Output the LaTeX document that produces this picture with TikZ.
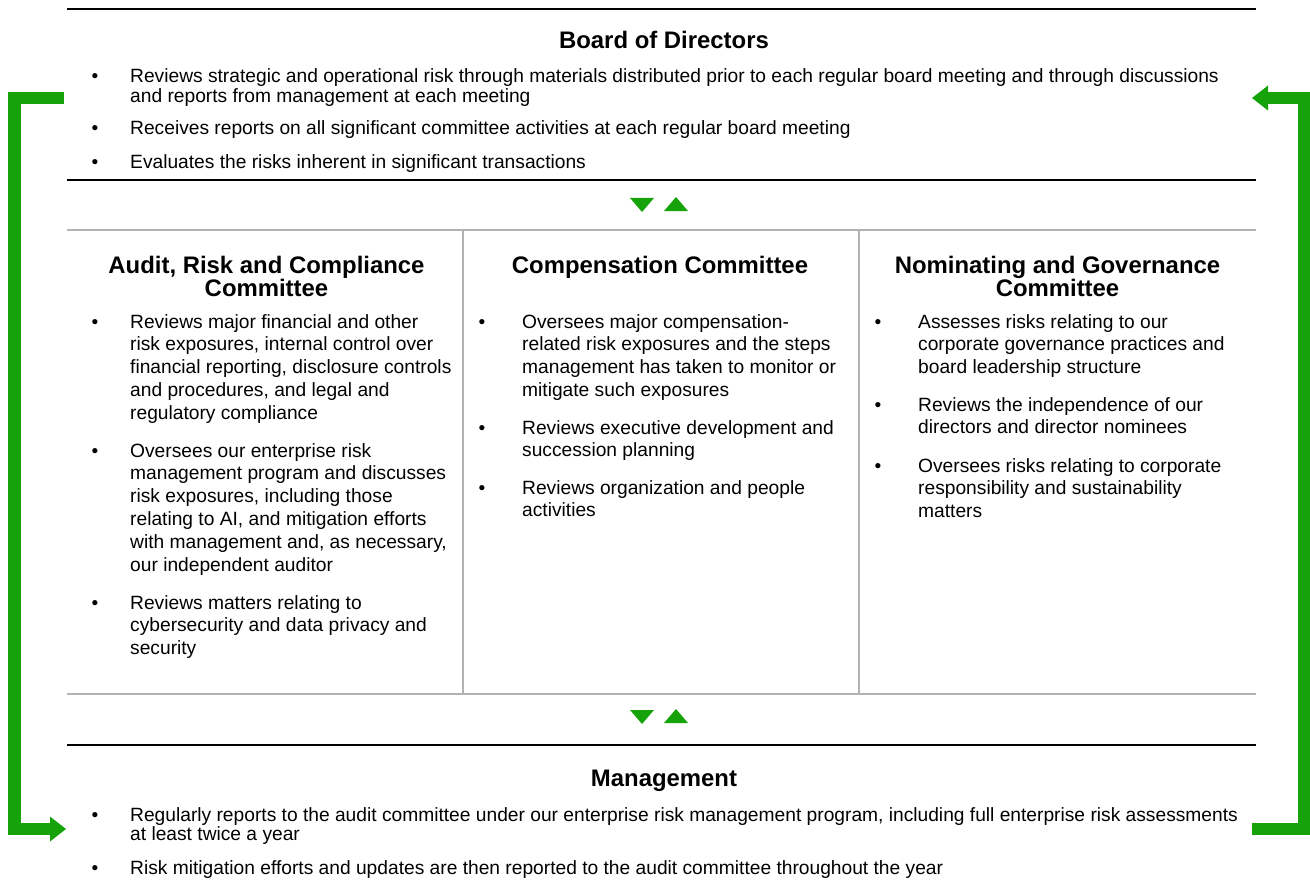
\documentclass[tikz,border=0pt]{standalone}
\usepackage{fontspec}
\setmainfont{Liberation Sans}
\definecolor{riskgreen}{RGB}{22,163,10}
\definecolor{rulegray}{RGB}{178,178,178}
% stacked lines with a fixed line pitch; the box baseline is the first line
\newcommand\leftlines[2]{\vtop{\baselineskip=#1\relax\lineskiplimit=-100pt\lineskip=0pt\halign{##\hfil\cr#2\crcr}}}
\newcommand\midlines[2]{\vtop{\baselineskip=#1\relax\lineskiplimit=-100pt\lineskip=0pt\halign{\hfil##\hfil\cr#2\crcr}}}
\tikzset{
  body/.style={inner sep=0pt, anchor=base west, font=\fontsize{19.2}{22}\selectfont},
  bul/.style={inner sep=0pt, anchor=base, font=\fontsize{19.2}{22}\selectfont},
  ttl/.style={inner sep=0pt, anchor=base, font=\fontsize{23.9}{24}\selectfont\bfseries},
  blackrule/.style={line width=2.5pt, black},
  grayrule/.style={line width=2pt, rulegray},
  bracket/.style={line width=12.5pt, riskgreen, line join=miter, line cap=butt},
  tri/.style={fill=riskgreen, draw=none}
}
\begin{document}
\begin{tikzpicture}[x=1pt,y=-1pt]
\useasboundingbox (0,0) rectangle (1310,888);

% horizontal and vertical rules
\draw[blackrule] (67,9) -- (1256,9);
\draw[blackrule] (67,180) -- (1256,180);
\draw[grayrule] (67,230) -- (1256,230);
\draw[grayrule] (67,694) -- (1256,694);
\draw[grayrule] (463,230) -- (463,694);
\draw[grayrule] (859,230) -- (859,694);
\draw[blackrule] (67,745) -- (1256,745);

% Board of Directors
\node[ttl] (board) at (664,49) {Board of Directors};
\node[bul] (bd1) at (95,83) {•};
\node[body] (bt1) at (130,83) {\leftlines{20pt}{Reviews strategic and operational risk through materials distributed prior to each regular board meeting and through discussions\cr and reports from management at each meeting}};
\node[bul] (bd2) at (95,135) {•};
\node[body] (bt2) at (130,135) {Receives reports on all significant committee activities at each regular board meeting};
\node[bul] (bd3) at (95,168) {•};
\node[body] (bt3) at (130,168) {Evaluates the risks inherent in significant transactions};

% flow markers between board and committees
\fill[tri] (630,198) -- (654,198) -- (642,212) -- cycle;
\fill[tri] (664,211) -- (688,211) -- (676,197) -- cycle;

% Audit, Risk and Compliance Committee
\node[ttl] (audit) at (266.5,273) {\midlines{23pt}{Audit, Risk and Compliance\cr Committee}};
\node[bul] (ad1) at (95,328) {•};
\node[body] (at1) at (130,328) {\leftlines{22.8pt}{Reviews major financial and other\cr risk exposures, internal control over\cr financial reporting, disclosure controls\cr and procedures, and legal and\cr regulatory compliance}};
\node[bul] (ad2) at (95,457) {•};
\node[body] (at2) at (130,457) {\leftlines{22.8pt}{Oversees our enterprise risk\cr management program and discusses\cr risk exposures, including those\cr relating to AI, and mitigation efforts\cr with management and, as necessary,\cr our independent auditor}};
\node[bul] (ad3) at (95,609) {•};
\node[body] (at3) at (130,609) {\leftlines{22.8pt}{Reviews matters relating to\cr cybersecurity and data privacy and\cr security}};

% Compensation Committee
\node[ttl] (comp) at (660,273) {Compensation Committee};
\node[bul] (cd1) at (482,328) {•};
\node[body] (ct1) at (522,328) {\leftlines{22.8pt}{Oversees major compensation-\cr related risk exposures and the steps\cr management has taken to monitor or\cr mitigate such exposures}};
\node[bul] (cd2) at (482,434) {•};
\node[body] (ct2) at (522,434) {\leftlines{22.8pt}{Reviews executive development and\cr succession planning}};
\node[bul] (cd3) at (482,494) {•};
\node[body] (ct3) at (522,494) {\leftlines{22.8pt}{Reviews organization and people\cr activities}};

% Nominating and Governance Committee
\node[ttl] (nom) at (1057.5,273) {\midlines{23pt}{Nominating and Governance\cr Committee}};
\node[bul] (nd1) at (878,328) {•};
\node[body] (nt1) at (918,328) {\leftlines{22.8pt}{Assesses risks relating to our\cr corporate governance practices and\cr board leadership structure}};
\node[bul] (nd2) at (878,411) {•};
\node[body] (nt2) at (918,411) {\leftlines{22.8pt}{Reviews the independence of our\cr directors and director nominees}};
\node[bul] (nd3) at (878,472) {•};
\node[body] (nt3) at (918,472) {\leftlines{22.8pt}{Oversees risks relating to corporate\cr responsibility and sustainability\cr matters}};

% flow markers between committees and management
\fill[tri] (630,710) -- (654,710) -- (642,724) -- cycle;
\fill[tri] (664,723) -- (688,723) -- (676,709) -- cycle;

% Management
\node[ttl] (mgmt) at (664,786) {Management};
\node[bul] (md1) at (95,821) {•};
\node[body] (mt1) at (130,821) {\leftlines{19pt}{Regularly reports to the audit committee under our enterprise risk management program, including full enterprise risk assessments\cr at least twice a year}};
\node[bul] (md2) at (95,874) {•};
\node[body] (mt2) at (130,874) {Risk mitigation efforts and updates are then reported to the audit committee throughout the year};

% side brackets linking board and management
\coordinate (lt) at (64,98);
\coordinate (lb) at (51,829);
\coordinate (ltip) at (66,829);
\draw[bracket] (lt) -- (14.5,98) -- (14.5,829) -- (lb);
\fill[riskgreen] (50,816.5) -- (ltip) -- (50,841.5) -- cycle;

\coordinate (rb) at (1252,829);
\coordinate (rt) at (1267,98);
\coordinate (rtip) at (1252,98);
\draw[bracket] (rb) -- (1304,829) -- (1304,98) -- (rt);
\fill[riskgreen] (1268,85.5) -- (rtip) -- (1268,110.5) -- cycle;
\end{tikzpicture}
\end{document}
